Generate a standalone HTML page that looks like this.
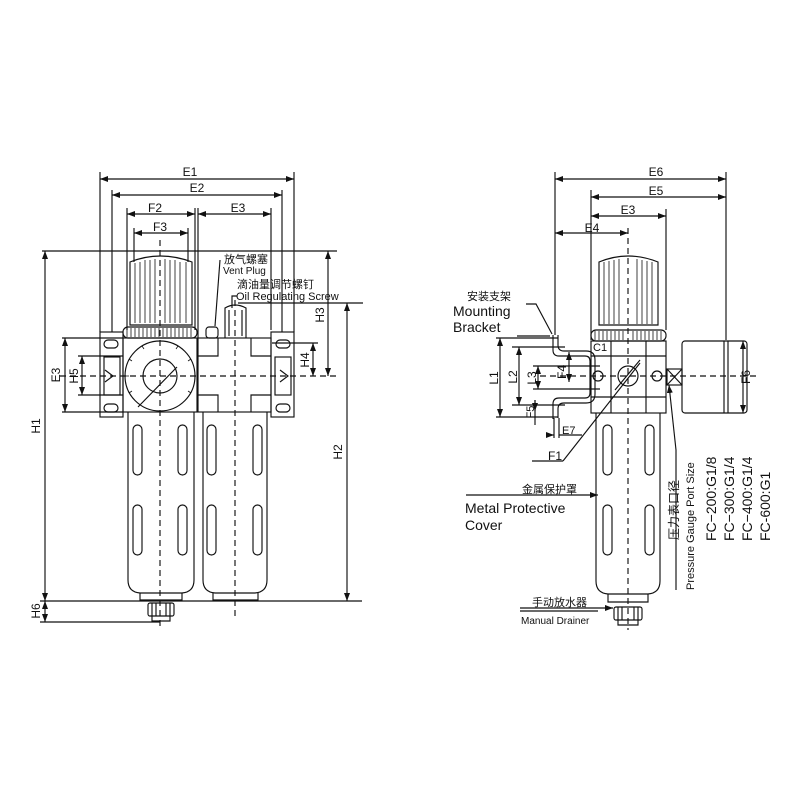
<!DOCTYPE html>
<html><head><meta charset="utf-8"><style>
html,body{margin:0;padding:0;background:#fff;}
svg{display:block;}
text{font-family:"Liberation Sans","Noto Sans CJK SC",sans-serif;fill:#111;}
</style></head><body>
<svg width="800" height="800" viewBox="0 0 800 800" xmlns="http://www.w3.org/2000/svg">
<defs>
<marker id="a" markerWidth="8" markerHeight="6" refX="8" refY="3" orient="auto-start-reverse" markerUnits="userSpaceOnUse"><path d="M0,0 L8,3 L0,6 Z" fill="#111"/></marker>
</defs>
<g stroke="#111" stroke-width="1.15" fill="none">
<!-- ===== LEFT ASSEMBLY ===== -->
<line x1="100" y1="172" x2="100" y2="332"/><line x1="294" y1="172" x2="294" y2="332"/>
<line x1="112" y1="190" x2="112" y2="332"/><line x1="282" y1="190" x2="282" y2="332"/>
<line x1="127" y1="208" x2="127" y2="330"/><line x1="195" y1="208" x2="195" y2="330"/>
<line x1="198" y1="208" x2="198" y2="338"/><line x1="271" y1="208" x2="271" y2="330"/>
<line x1="134" y1="228" x2="134" y2="262"/><line x1="188" y1="228" x2="188" y2="262"/>
<line x1="100" y1="179" x2="294" y2="179" marker-start="url(#a)" marker-end="url(#a)"/>
<line x1="112" y1="195" x2="282" y2="195" marker-start="url(#a)" marker-end="url(#a)"/>
<line x1="127" y1="214" x2="195" y2="214" marker-start="url(#a)" marker-end="url(#a)"/>
<line x1="198" y1="214" x2="271" y2="214" marker-start="url(#a)" marker-end="url(#a)"/>
<line x1="134" y1="233" x2="188" y2="233" marker-start="url(#a)" marker-end="url(#a)"/>
<line x1="42" y1="251" x2="337" y2="251"/>
<line x1="45" y1="251" x2="45" y2="601" marker-start="url(#a)" marker-end="url(#a)"/>
<line x1="40" y1="601" x2="362" y2="601"/>
<line x1="40" y1="622" x2="160" y2="622"/>
<line x1="45" y1="601" x2="45" y2="622" marker-start="url(#a)" marker-end="url(#a)"/>
<line x1="62" y1="338" x2="123" y2="338"/><line x1="62" y1="412" x2="123" y2="412"/>
<line x1="65" y1="338" x2="65" y2="412" marker-start="url(#a)" marker-end="url(#a)"/>
<line x1="78" y1="356" x2="123" y2="356"/><line x1="78" y1="395" x2="123" y2="395"/>
<line x1="82" y1="356" x2="82" y2="395" marker-start="url(#a)" marker-end="url(#a)"/>
<line x1="328" y1="251" x2="328" y2="376" marker-start="url(#a)" marker-end="url(#a)"/>
<line x1="272" y1="343" x2="318" y2="343"/>
<line x1="313" y1="343" x2="313" y2="376" marker-start="url(#a)" marker-end="url(#a)"/>
<line x1="238" y1="303" x2="363" y2="303"/>
<line x1="347" y1="303" x2="347" y2="601" marker-start="url(#a)" marker-end="url(#a)"/>
<line x1="60" y1="376" x2="336" y2="376" stroke-dasharray="6,4"/>
<line x1="160" y1="240" x2="160" y2="630" stroke-dasharray="6,4"/>
<line x1="235" y1="300" x2="235" y2="620" stroke-dasharray="6,4"/>
<path d="M130,262 Q160,250 192,262 L192,325 L130,325 Z"/>
<g stroke-width="0.8"><line x1="135" y1="263" x2="135" y2="323"/><line x1="140" y1="262" x2="140" y2="323"/><line x1="145" y1="260" x2="145" y2="323"/><line x1="150" y1="260" x2="150" y2="323"/><line x1="155" y1="259" x2="155" y2="323"/><line x1="165" y1="259" x2="165" y2="323"/><line x1="170" y1="260" x2="170" y2="323"/><line x1="175" y1="260" x2="175" y2="323"/><line x1="180" y1="262" x2="180" y2="323"/><line x1="186" y1="262" x2="186" y2="323"/></g>
<rect x="123" y="327" width="74" height="11" rx="5"/>
<g stroke-width="0.8"><path d="M127,328v9M131,328v9M135,328v9M139,328v9M143,328v9M147,328v9M151,328v9M155,328v9M159,328v9M163,328v9M167,328v9M171,328v9M175,328v9M179,328v9M183,328v9M187,328v9M191,328v9"/></g>
<rect x="123" y="338" width="74" height="74"/>
<rect x="198" y="338" width="73" height="74"/>
<path d="M198,356h20v-18M271,356h-20v-18M198,395h20v17M271,395h-20v17"/>
<circle cx="160" cy="376" r="35"/><circle cx="160" cy="376" r="17"/>
<g stroke-width="0.8"><path d="M160,341v4M178,346l-2,3M191,359l-3,2M195,376h-4M191,393l-3,-2M142,346l2,3M129,359l3,2M125,376h4M129,393l3,-2"/></g>
<line x1="138" y1="407" x2="177" y2="367"/>
<rect x="100" y="332" width="23" height="85"/><rect x="271" y="332" width="23" height="85"/>
<rect x="104" y="357" width="16" height="38"/><rect x="275" y="357" width="16" height="38"/>
<rect x="104" y="340" width="14" height="8" rx="4"/><rect x="104" y="404" width="14" height="8" rx="4"/>
<rect x="276" y="340" width="14" height="8" rx="4"/><rect x="276" y="404" width="14" height="8" rx="4"/>
<path d="M105,370l8,6l-8,6M280,370l8,6l-8,6"/>
<rect x="206" y="327" width="12" height="11" rx="3"/>
<path d="M225,338v-30q10,-6 21,0v30"/>
<line x1="229" y1="310" x2="229" y2="336"/><line x1="242" y1="310" x2="242" y2="336"/>
<line x1="215" y1="326" x2="220" y2="260"/>
<path d="M232,308v-12h5"/>
<path d="M128,412v168q0,12 12,13h42q12,-1 12,-13v-168"/>
<path d="M203,412v168q0,12 12,13h40q12,-1 12,-13v-168"/>
<rect x="133" y="425" width="9" height="50" rx="4.5"/><rect x="178" y="425" width="9" height="50" rx="4.5"/>
<rect x="133" y="505" width="9" height="50" rx="4.5"/><rect x="178" y="505" width="9" height="50" rx="4.5"/>
<rect x="207" y="425" width="9" height="50" rx="4.5"/><rect x="253" y="425" width="9" height="50" rx="4.5"/>
<rect x="207" y="505" width="9" height="50" rx="4.5"/><rect x="253" y="505" width="9" height="50" rx="4.5"/>
<path d="M140,593v7h42v-7M213,593v7h45v-7"/>
<rect x="148" y="603" width="26" height="13" rx="2"/>
<path d="M152,603v13M156,603v13M166,603v13M170,603v13"/>
<path d="M152,616v5h18v-5"/>

<!-- ===== RIGHT ASSEMBLY ===== -->
<line x1="555" y1="172" x2="555" y2="335"/>
<line x1="726" y1="172" x2="726" y2="340"/>
<line x1="591" y1="190" x2="591" y2="340"/>
<line x1="666" y1="209" x2="666" y2="330"/>
<line x1="555" y1="179" x2="726" y2="179" marker-start="url(#a)" marker-end="url(#a)"/>
<line x1="591" y1="197" x2="726" y2="197" marker-start="url(#a)" marker-end="url(#a)"/>
<line x1="591" y1="216" x2="666" y2="216" marker-start="url(#a)" marker-end="url(#a)"/>
<line x1="555" y1="233" x2="628" y2="233" marker-start="url(#a)" marker-end="url(#a)"/>
<line x1="628" y1="228" x2="628" y2="630" stroke-dasharray="6,4"/>
<line x1="540" y1="376" x2="760" y2="376" stroke-dasharray="6,4"/>
<path d="M599,262 Q628,250 658,262 L658,325 L599,325 Z"/>
<g stroke-width="0.8"><path d="M604,262v62M609,261v63M614,260v64M619,259v65M637,259v65M642,260v64M647,261v63M652,262v62"/></g>
<rect x="591" y="330" width="75" height="11" rx="5"/>
<g stroke-width="0.8"><path d="M595,331v9M599,331v9M603,331v9M607,331v9M611,331v9M615,331v9M619,331v9M623,331v9M633,331v9M637,331v9M641,331v9M645,331v9M649,331v9M653,331v9M657,331v9M661,331v9"/></g>
<rect x="591" y="341" width="75" height="72"/>
<path d="M611,341v72M646,341v72M591,356h75M591,397h75"/>
<circle cx="628" cy="376" r="10"/><line x1="615" y1="390" x2="640" y2="360"/>
<circle cx="657" cy="376" r="5"/><circle cx="598" cy="376" r="5"/>
<rect x="667" y="369" width="15" height="16"/><path d="M667,369l15,16M682,369l-15,16"/>
<rect x="682" y="341" width="65" height="72" rx="3"/><line x1="724" y1="341" x2="724" y2="413"/>
<line x1="728" y1="341" x2="728" y2="413"/>
<line x1="743" y1="341" x2="743" y2="413" marker-start="url(#a)" marker-end="url(#a)"/>
<path d="M553,335v15q0,6 6,6h26q5,0 5,5v32q0,5 -5,5h-26q-6,0 -6,6v15"/>
<path d="M558,335v10q0,6 6,6h22q9,0 9,9v34q0,9 -9,9h-22q-6,0 -6,6v9"/>
<line x1="517" y1="336" x2="550" y2="336"/><line x1="496" y1="338" x2="558" y2="338"/>
<line x1="496" y1="417" x2="558" y2="417"/>
<line x1="500" y1="338" x2="500" y2="417" marker-start="url(#a)" marker-end="url(#a)"/>
<line x1="512" y1="347" x2="565" y2="347"/><line x1="512" y1="405" x2="565" y2="405"/>
<line x1="519" y1="347" x2="519" y2="405" marker-start="url(#a)" marker-end="url(#a)"/>
<line x1="533" y1="366" x2="600" y2="366"/><line x1="533" y1="389" x2="600" y2="389"/>
<line x1="538" y1="366" x2="538" y2="389" marker-start="url(#a)" marker-end="url(#a)"/>
<line x1="569" y1="352" x2="569" y2="382" marker-start="url(#a)" marker-end="url(#a)"/>
<line x1="535" y1="400" x2="535" y2="425"/>
<line x1="535" y1="400" x2="535" y2="411" marker-end="url(#a)"/>
<line x1="554" y1="418" x2="554" y2="438"/><line x1="559" y1="418" x2="559" y2="438"/>
<line x1="546" y1="435" x2="554" y2="435" marker-end="url(#a)"/>
<line x1="559" y1="435" x2="582" y2="435"/>
<line x1="532" y1="461" x2="563" y2="461"/>
<line x1="563" y1="461" x2="640" y2="363"/>
<line x1="466" y1="495" x2="598" y2="495" marker-end="url(#a)"/>
<line x1="520" y1="608" x2="613" y2="608" marker-end="url(#a)"/>
<line x1="520" y1="611" x2="598" y2="611"/>
<line x1="676" y1="590" x2="676" y2="450"/>
<line x1="676" y1="450" x2="669" y2="385" marker-end="url(#a)"/>
<path d="M526,304l10,0l16,30"/>
<path d="M596,413v168q0,12 12,13h40q12,-1 12,-13v-168"/>
<rect x="603" y="425" width="9" height="50" rx="4.5"/><rect x="645" y="425" width="9" height="50" rx="4.5"/>
<rect x="603" y="505" width="9" height="50" rx="4.5"/><rect x="645" y="505" width="9" height="50" rx="4.5"/>
<path d="M608,594v8h40v-8"/>
<rect x="614" y="607" width="28" height="13" rx="2"/>
<path d="M618,607v13M622,607v13M634,607v13M638,607v13"/>
<path d="M618,620v5h20v-5"/>
</g>

<g font-size="12">
<text x="190" y="176" text-anchor="middle">E1</text>
<text x="197" y="192" text-anchor="middle">E2</text>
<text x="155" y="212" text-anchor="middle">F2</text>
<text x="238" y="212" text-anchor="middle">E3</text>
<text x="160" y="231" text-anchor="middle">F3</text>
<text x="224" y="263" font-size="11">放气螺塞</text>
<text x="223" y="274" font-size="10">Vent Plug</text>
<text x="237" y="288" font-size="11">滴油量调节螺钉</text>
<text x="236" y="300" font-size="11">Oil Regulating Screw</text>
<text transform="translate(40,426) rotate(-90)" text-anchor="middle">H1</text>
<text transform="translate(342,452) rotate(-90)" text-anchor="middle">H2</text>
<text transform="translate(324,315) rotate(-90)" text-anchor="middle">H3</text>
<text transform="translate(309,360) rotate(-90)" text-anchor="middle">H4</text>
<text transform="translate(78,376) rotate(-90)" text-anchor="middle">H5</text>
<text transform="translate(60,375) rotate(-90)" text-anchor="middle">E3</text>
<text transform="translate(40,611) rotate(-90)" text-anchor="middle">H6</text>
<text x="656" y="176" text-anchor="middle">E6</text>
<text x="656" y="195" text-anchor="middle">E5</text>
<text x="628" y="214" text-anchor="middle">E3</text>
<text x="592" y="232" text-anchor="middle">E4</text>
<text x="467" y="300" font-size="11">安装支架</text>
<text x="453" y="316" font-size="14">Mounting</text>
<text x="453" y="332" font-size="14">Bracket</text>
<text x="593" y="351" font-size="11">C1</text>
<text transform="translate(498,378) rotate(-90)" text-anchor="middle">L1</text>
<text transform="translate(517,377) rotate(-90)" text-anchor="middle">L2</text>
<text transform="translate(536,378) rotate(-90)" text-anchor="middle">L3</text>
<text transform="translate(566,372) rotate(-90)" text-anchor="middle">F4</text>
<text transform="translate(534,412) rotate(-90)" text-anchor="middle" font-size="11">F5</text>
<text x="562" y="434" font-size="11">E7</text>
<text x="548" y="460">F1</text>
<text x="522" y="493" font-size="11">金属保护罩</text>
<text x="465" y="513" font-size="14">Metal Protective</text>
<text x="465" y="530" font-size="14">Cover</text>
<text x="532" y="606" font-size="11">手动放水器</text>
<text x="521" y="624" font-size="10">Manual Drainer</text>
<text transform="translate(750,377) rotate(-90)" text-anchor="middle">F6</text>
<text transform="translate(678,540) rotate(-90)" font-size="12">压力表口径</text>
<text transform="translate(694,590) rotate(-90)" font-size="11">Pressure Gauge Port Size</text>
<text transform="translate(716,541) rotate(-90)" font-size="14">FC−200:G1/8</text>
<text transform="translate(734,541) rotate(-90)" font-size="14">FC−300:G1/4</text>
<text transform="translate(752,541) rotate(-90)" font-size="14">FC−400:G1/4</text>
<text transform="translate(770,541) rotate(-90)" font-size="14">FC-600:G1</text>
</g>
</svg>
</body></html>
